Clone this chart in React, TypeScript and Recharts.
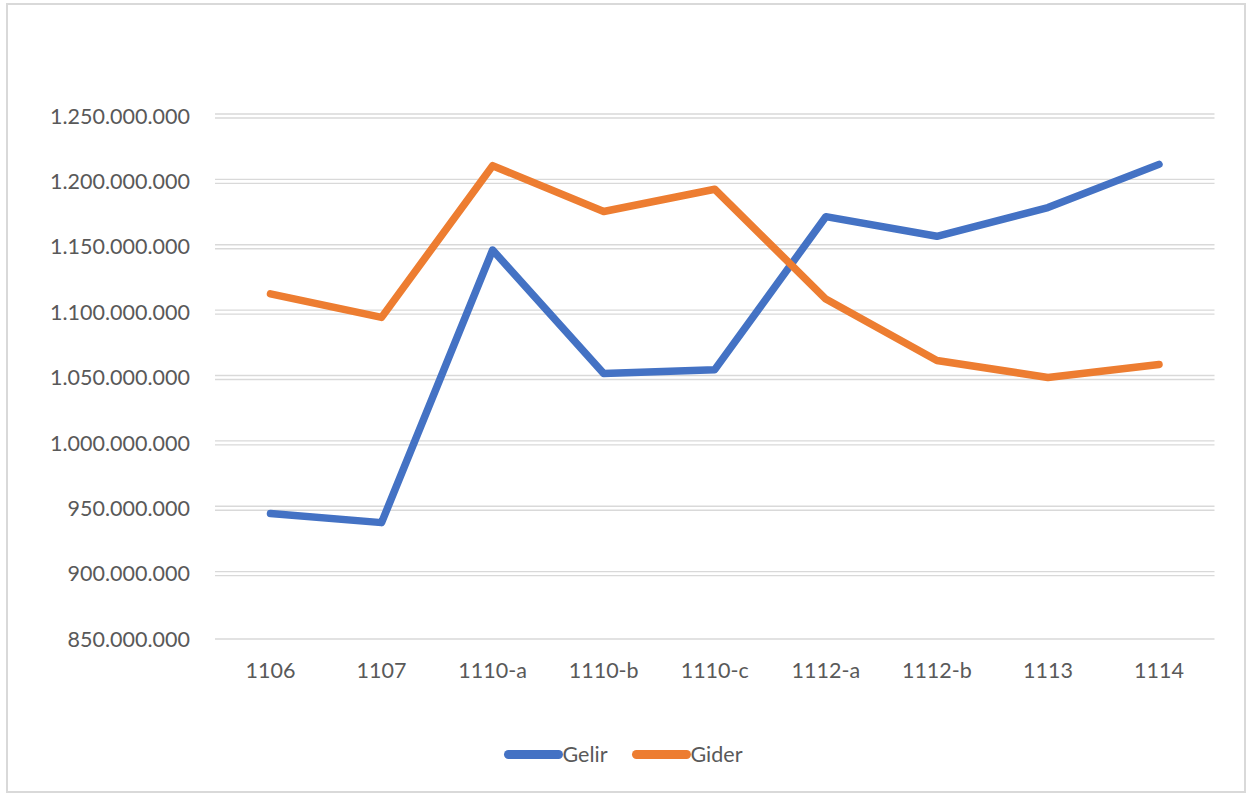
import React from 'react';
import { LineChart, Line, XAxis, YAxis, CartesianGrid } from 'recharts';

const categories = ['1106', '1107', '1110-a', '1110-b', '1110-c', '1112-a', '1112-b', '1113', '1114'];
const gelir = [946000000, 939000000, 1147500000, 1053000000, 1056000000, 1173000000, 1158000000, 1180000000, 1213000000];
const gider = [1114000000, 1096000000, 1212000000, 1177000000, 1194000000, 1110000000, 1063000000, 1050000000, 1060000000];
const yTicks = [850000000, 900000000, 950000000, 1000000000, 1050000000, 1100000000, 1150000000, 1200000000, 1250000000];

const BLUE = '#4472C4';
const ORANGE = '#ED7D31';
const FONT = 'Lato, "Open Sans", sans-serif';

const data = categories.map((c, i) => ({ name: c, gelir: gelir[i], gider: gider[i] }));

const formatNum = (v: number) => v.toLocaleString('de-DE');

// Excel-style doubled gridline
const DoubleLine = (props: any) => {
    const { x1, x2, y1, index } = props;
    if (index === 0) return <g />;
    return (
        <g>
            <line x1={x1} x2={x2} y1={y1 - 2} y2={y1 - 2} stroke="#d9d9d9" strokeWidth={1.3} />
            <line x1={x1} x2={x2} y1={y1 + 2} y2={y1 + 2} stroke="#d9d9d9" strokeWidth={1.3} />
        </g>
    );
};

export default function App() {
    return (
        <div
            style={{
                position: 'absolute',
                left: 6,
                top: 3,
                width: 1236,
                height: 786,
                border: '2px solid #d9d9d9',
                background: '#fff',
                fontFamily: FONT,
            }}
        >
            <LineChart
                width={1236}
                height={786}
                data={data}
                margin={{ top: 111, right: 29.5, left: 0, bottom: 92 }}
            >
                <CartesianGrid vertical={false} horizontal={DoubleLine} />
                <XAxis
                    dataKey="name"
                    height={60}
                    padding={{ left: 55.5, right: 55.5 }}
                    axisLine={{ stroke: '#d9d9d9', strokeWidth: 1.5 }}
                    tickLine={false}
                    tickSize={0}
                    tickMargin={24}
                    tick={{ fill: '#595959', fontSize: 21.5, fontFamily: FONT }}
                />
                <YAxis
                    width={207}
                    domain={[850000000, 1250000000]}
                    ticks={yTicks}
                    allowDataOverflow
                    axisLine={false}
                    tickLine={false}
                    tickSize={0}
                    tickMargin={25}
                    tickFormatter={formatNum}
                    tick={{ fill: '#595959', fontSize: 21.5, fontFamily: FONT }}
                />
                <Line
                    dataKey="gelir"
                    name="Gelir"
                    type="linear"
                    stroke={BLUE}
                    strokeWidth={7.5}
                    strokeLinecap="round"
                    strokeLinejoin="round"
                    dot={false}
                    activeDot={false}
                    isAnimationActive={false}
                />
                <Line
                    dataKey="gider"
                    name="Gider"
                    type="linear"
                    stroke={ORANGE}
                    strokeWidth={7.5}
                    strokeLinecap="round"
                    strokeLinejoin="round"
                    dot={false}
                    activeDot={false}
                    isAnimationActive={false}
                />
            </LineChart>
            <div
                style={{
                    position: 'absolute',
                    left: 0,
                    right: 0,
                    top: 736,
                    display: 'flex',
                    justifyContent: 'center',
                    alignItems: 'center',
                    gap: 24,
                    fontSize: 21.5,
                    color: '#595959',
                    marginLeft: -6,
                }}
            >
                {[
                    { label: 'Gelir', color: BLUE },
                    { label: 'Gider', color: ORANGE },
                ].map((item) => (
                    <div key={item.label} style={{ display: 'flex', alignItems: 'center' }}>
                        <span
                            style={{
                                display: 'inline-block',
                                width: 59,
                                height: 9,
                                borderRadius: 5,
                                background: item.color,
                            }}
                        />
                        <span>{item.label}</span>
                    </div>
                ))}
            </div>
        </div>
    );
}
